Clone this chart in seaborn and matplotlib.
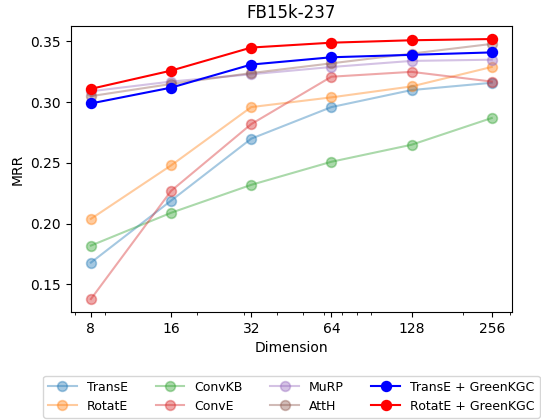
import numpy as np
import pandas as pd
import seaborn as sns
import matplotlib.pyplot as plt
from matplotlib.ticker import ScalarFormatter, FixedLocator

# Data (FB15k-237, MRR vs dimension)
dims = [8, 16, 32, 64, 128, 256]
transe = [0.168, 0.219, 0.270, 0.296, 0.310, 0.316]
rotate = [0.204, 0.248, 0.296, 0.304, 0.313, 0.329]
convkb = [0.182, 0.209, 0.232, 0.251, 0.265, 0.287]
conve = [0.138, 0.227, 0.282, 0.321, 0.325, 0.317]
murp = [0.309, 0.317, 0.323, 0.329, 0.334, 0.335]
atth = [0.305, 0.315, 0.324, 0.332, 0.340, 0.348]
transe_green = [0.299, 0.312, 0.331, 0.337, 0.339, 0.341]
rotate_green = [0.311, 0.326, 0.345, 0.349, 0.351, 0.352]

baselines = {
    "TransE": transe,
    "RotatE": rotate,
    "ConvKB": convkb,
    "ConvE": conve,
    "MuRP": murp,
    "AttH": atth,
}
ours = {
    "TransE + GreenKGC": transe_green,
    "RotatE + GreenKGC": rotate_green,
}

tab = sns.color_palette("tab10")
base_colors = [tab[0], tab[1], tab[2], tab[3], tab[4], tab[5]]

fig, ax = plt.subplots(figsize=(5.41, 4.2), dpi=100)
fig.subplots_adjust(left=0.131, right=0.946, top=0.938, bottom=0.257)

for (name, vals), c in zip(baselines.items(), base_colors):
    df = pd.DataFrame({"Dimension": dims, "MRR": vals})
    sns.lineplot(data=df, x="Dimension", y="MRR", ax=ax, color=c, marker="o",
                 markersize=7, alpha=0.4, linewidth=1.5, markeredgewidth=1.2,
                 markeredgecolor=c, label=name)

for name, vals, c in zip(ours.keys(), ours.values(), ["blue", "red"]):
    df = pd.DataFrame({"Dimension": dims, "MRR": vals})
    sns.lineplot(data=df, x="Dimension", y="MRR", ax=ax, color=c, marker="o",
                 markersize=7, linewidth=1.5, markeredgewidth=1.2,
                 markeredgecolor=c, label=name)

ax.set_xscale("log")
ax.xaxis.set_major_locator(FixedLocator(dims))
ax.xaxis.set_major_formatter(ScalarFormatter())
ax.set_xlabel("Dimension")
ax.set_ylabel("MRR")
ax.set_title("FB15k-237")

handles, labels = ax.get_legend_handles_labels()
ax.legend(handles, labels, loc="upper center", bbox_to_anchor=(0.5, -0.2),
          ncol=4, fontsize=9, handlelength=2.3, columnspacing=2.2)

plt.savefig("out.png", dpi=100)
